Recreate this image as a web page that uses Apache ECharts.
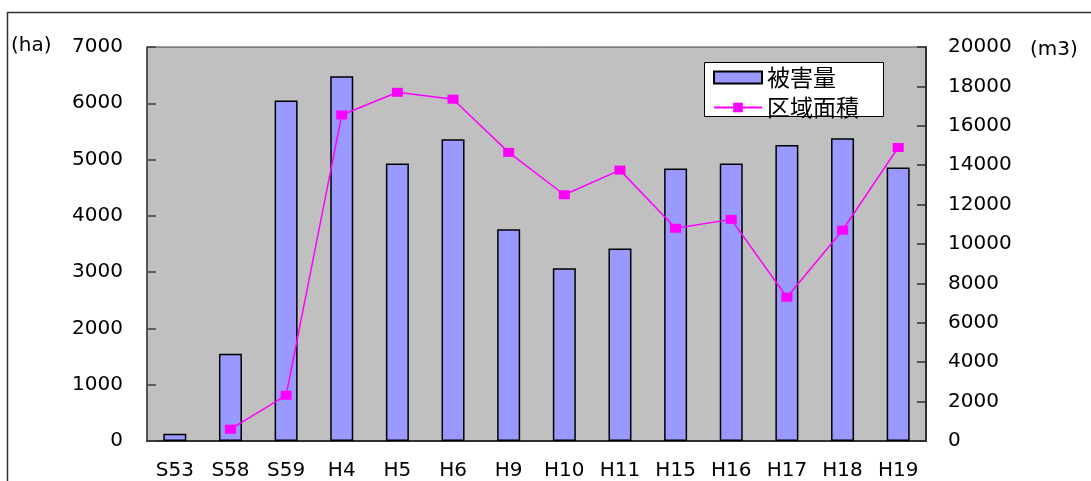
<!DOCTYPE html>
<html>
<head>
<meta charset="utf-8">
<script src="https://cdn.jsdelivr.net/npm/echarts@6/dist/echarts.min.js"></script>
<style>html,body{margin:0;padding:0;background:#fff}#c{width:1091px;height:481px}</style>
</head>
<body>
<div id="c"></div>
<script>
const categories = ['S53','S58','S59','H4','H5','H6','H9','H10','H11','H15','H16','H17','H18','H19'];
const damage = [130, 1550, 6050, 6480, 4930, 5360, 3760, 3070, 3420, 4840, 4930, 5260, 5380, 4860];
const area = [null, 600, 2320, 16550, 17700, 17350, 14650, 12500, 13750, 10800, 11250, 7300, 10700, 14900];
const leftTicks = {min: 0, max: 7000, interval: 1000};
const rightTicks = {min: 0, max: 20000, interval: 2000};
const seriesNames = ['被害量', '区域面積'];
const unitLeft = '(ha)';
const unitRight = '(m3)';

const FONT = 'DejaVu Sans';
const plain = v => String(v);
const chart = echarts.init(document.getElementById('c'), null, {renderer: 'canvas'});
chart.setOption({
  animation: false,
  backgroundColor: '#fff',
  textStyle: {fontFamily: FONT},
  grid: {left: 147, right: 165, top: 47, bottom: 40, show: true, backgroundColor: '#c0c0c0', borderColor: '#404040', borderWidth: 1},
  legend: {
    orient: 'vertical', left: 704, top: 62,
    padding: [4, 6, 2, 9], itemGap: 7, itemWidth: 48, itemHeight: 12, itemTextGap: 10,
    textStyle: {fontFamily: 'Noto Sans CJK JP', fontSize: 23, color: '#000'},
    data: [
      {name: seriesNames[0], icon: 'rect'},
      {name: seriesNames[1]}
    ]
  },
  xAxis: {
    type: 'category', data: categories,
    axisLine: {lineStyle: {color: '#303030', width: 2}},
    axisTick: {inside: true, length: 5, lineStyle: {color: '#303030', width: 1.5}},
    axisLabel: {color: '#000', fontSize: 20, fontFamily: FONT, margin: 20, interval: 0}
  },
  yAxis: [
    {
      type: 'value', min: leftTicks.min, max: leftTicks.max, interval: leftTicks.interval,
      axisLine: {show: true, lineStyle: {color: '#404040', width: 1.5}},
      axisTick: {show: true, inside: true, length: 9, lineStyle: {color: '#404040', width: 1.5}},
      splitLine: {show: false},
      axisLabel: {color: '#000', fontSize: 20, fontFamily: FONT, margin: 24, formatter: plain}
    },
    {
      type: 'value', min: rightTicks.min, max: rightTicks.max, interval: rightTicks.interval,
      position: 'right',
      axisLine: {show: true, lineStyle: {color: '#303030', width: 2}},
      axisTick: {show: true, inside: true, length: 9, lineStyle: {color: '#303030', width: 1.5}},
      splitLine: {show: false},
      axisLabel: {color: '#000', fontSize: 20, fontFamily: FONT, margin: 22, formatter: plain}
    }
  ],
  series: [
    {
      name: seriesNames[0], type: 'bar', yAxisIndex: 0, data: damage, barWidth: 23,
      itemStyle: {color: '#9999ff', borderColor: '#000', borderWidth: 1.5}
    },
    {
      name: seriesNames[1], type: 'line', yAxisIndex: 1, data: area,
      symbol: 'rect', symbolSize: [11, 9], showAllSymbol: true,
      lineStyle: {color: '#ff00ff', width: 1.5},
      itemStyle: {color: '#ff00ff'}
    }
  ],
  graphic: [
    {type: 'rect', shape: {x: 7.5, y: 12.5, width: 1200, height: 600}, style: {fill: 'none', stroke: '#333', lineWidth: 1.5}, silent: true, z: -1},
    {type: 'rect', shape: {x: 704.5, y: 62.5, width: 179, height: 54}, style: {fill: '#fff', stroke: '#000', lineWidth: 1}, silent: true, z: 3.5},
    {type: 'text', left: 11, top: 36, style: {text: unitLeft, font: '20px ' + FONT, fill: '#000'}},
    {type: 'text', left: 1030, top: 40, style: {text: unitRight, font: '20px ' + FONT, fill: '#000'}}
  ]
});
</script>
</body>
</html>
